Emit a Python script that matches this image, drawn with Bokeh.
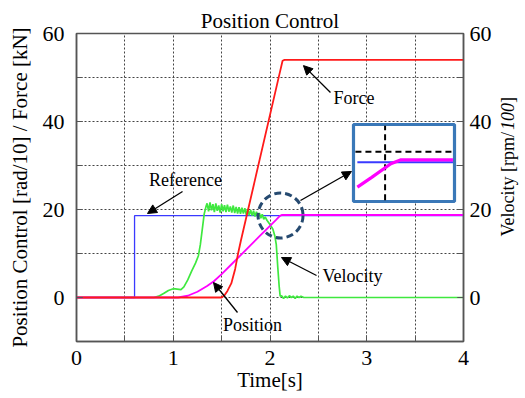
import math
import numpy as np
from bokeh.plotting import figure
from bokeh.layouts import row
from bokeh.models import LinearAxis, Range1d, FixedTicker, Arrow, NormalHead, Label
from bokeh.embed import file_html
from bokeh.resources import INLINE

FONT = "Liberation Serif"

# ---------------- data ----------------
ref_t = [0.0, 0.6, 0.6, 4.0]
ref_v = [0.0, 0.0, 18.6, 18.6]

pos_t = [0.0, 1.05, 1.15, 1.25, 1.35, 1.42, 1.5, 1.6, 1.7, 1.8, 1.9, 2.0, 2.06, 2.1, 2.12, 4.0]
pos_v = [0.0, 0.0, 0.4, 1.3, 2.6, 3.7, 5.3, 7.5, 9.7, 11.9, 14.1, 16.3, 17.6, 18.5, 18.75, 18.75]

force_t = [0.0, 1.5, 1.53, 1.56, 1.6, 1.64, 1.67, 1.7, 2.10, 2.13, 2.15, 4.0]
force_v = [0.0, 0.0, 0.5, 1.5, 3.2, 6.5, 10.0, 13.0, 51.0, 53.8, 54.0, 54.0]

vel_t = [0.0, 0.8, 0.85, 0.9, 0.95, 1.0, 1.04, 1.08, 1.11, 1.15, 1.19, 1.23, 1.26, 1.28, 1.30, 1.32, 1.34,
         1.35, 1.365, 1.38, 1.395, 1.41, 1.425, 1.44, 1.455, 1.47, 1.485, 1.50, 1.515, 1.53, 1.545,
         1.56, 1.575, 1.59, 1.605, 1.62, 1.635, 1.65, 1.665, 1.68, 1.695, 1.71, 1.725, 1.74, 1.755,
         1.77, 1.785, 1.80, 1.815, 1.83, 1.845, 1.86, 1.875, 1.89, 1.905, 1.92, 1.935, 1.95,
         1.97, 2.0, 2.03, 2.05, 2.065, 2.08, 2.095, 2.105, 2.12, 2.14, 2.16, 2.18, 2.2, 2.22,
         2.24, 2.26, 2.28, 2.3, 2.32, 2.35, 4.0]
vel_v = [0.0, 0.0, 0.3, 0.9, 1.6, 2.0, 1.9, 1.8, 2.4, 4.0, 6.0, 7.8, 9.5, 12.0, 15.5, 19.0, 20.8,
         21.4, 19.6, 21.6, 19.8, 21.2, 19.4, 21.4, 19.7, 20.9, 19.3, 21.2, 19.6, 21.0, 19.4,
         21.1, 19.5, 20.7, 19.3, 20.9, 19.2, 20.6, 19.1, 20.5, 19.0, 20.4, 19.1, 20.3, 18.8,
         20.1, 18.7, 19.9, 18.6, 19.7, 18.4, 19.5, 18.3, 19.2, 18.0, 18.9, 17.8, 18.3,
         17.5, 16.6, 15.5, 14.0, 12.0, 7.0, 2.5, 0.3, 0.4, -0.2, 0.3, -0.1, 0.4, 0.0,
         0.3, -0.2, 0.3, 0.0, 0.3, 0.0, 0.0]

x_major = [0, 1, 2, 3, 4]
x_grid = [0.5, 1.0, 1.5, 2.0, 2.5, 3.0, 3.5]
y_major = [0, 20, 40, 60]
y_grid = [0, 10, 20, 30, 40, 50]

# right axis title: (text, italic?) pieces
right_title = [("Velocity [rpm/", False), ("100", True), ("]", False)]

# zoom window shown in the inset, and the inset's guide lines
zoom_t = (2.03, 2.23)
zoom_v = (16.15, 20.95)
zoom_hline = 19.3
zoom_vline = 2.088

H = 398
RIGHT_W = 30
MAIN_W = 525 - RIGHT_W
TOP, BOTTOM = 33, 57

# ---------------- main figure ----------------
p = figure(width=MAIN_W, height=H, x_range=Range1d(0, 4), y_range=Range1d(-10, 60),
           output_backend="svg", toolbar_location=None,
           min_border_left=76, min_border_right=MAIN_W - 463,
           min_border_top=TOP, min_border_bottom=BOTTOM,
           title="Position Control")
p.title.text_font = FONT
p.title.text_font_size = "21px"
p.title.text_font_style = "normal"
p.title.align = "center"
p.title.offset = -6
p.title.text_color = "black"
p.title.standoff = 2

p.extra_y_ranges = {"vel": Range1d(-10, 60)}
right_axis = LinearAxis(y_range_name="vel")
p.add_layout(right_axis, "right")

xax = p.xaxis[0]
lax = p.yaxis[0]
rax = right_axis

xax.ticker = FixedTicker(ticks=x_major, minor_ticks=x_grid)
lax.ticker = FixedTicker(ticks=y_major, minor_ticks=y_grid)
rax.ticker = FixedTicker(ticks=y_major, minor_ticks=y_grid)
xax.axis_label = "Time[s]"
lax.axis_label = "Position Control [rad/10] / Force [kN]"

for ax in (xax, lax, rax):
    ax.major_label_text_font = FONT
    ax.major_label_text_font_size = "22px"
    ax.major_label_text_font_style = "normal"
    ax.major_label_text_color = "black"
    ax.axis_label_text_font = FONT
    ax.axis_label_text_font_style = "normal"
    ax.axis_label_text_font_size = "21px"
    ax.axis_label_text_color = "black"
    ax.axis_line_color = "#555555"
    ax.axis_line_width = 1.5
    ax.major_tick_in = 6
    ax.major_tick_out = 0
    ax.minor_tick_in = 6
    ax.minor_tick_out = 0
    ax.major_tick_line_color = "#555555"
    ax.minor_tick_line_color = "#555555"

xax.major_label_standoff = 9
xax.axis_label_standoff = 0
lax.major_label_standoff = 12
lax.axis_label_standoff = 8
rax.major_label_standoff = 6

p.outline_line_color = "#555555"
p.outline_line_width = 1.5

p.xgrid.ticker = FixedTicker(ticks=x_grid)
p.ygrid.ticker = FixedTicker(ticks=y_grid)
for g in (p.xgrid[0], p.ygrid[0]):
    g.grid_line_color = "#444444"
    g.grid_line_dash = "2 2"
    g.grid_line_width = 1

# ---------------- curves ----------------
p.line(ref_t, ref_v, line_color="#3a3aff", line_width=1.3)
p.line(vel_t, vel_v, line_color="#3fe83f", line_width=1.7)
p.line(pos_t, pos_v, line_color="#ff00ff", line_width=1.8)
p.line(force_t, force_v, line_color="#ff1a1a", line_width=1.8)

# ---------------- annotations ----------------
def arrow(x0, y0, x1, y1):
    p.add_layout(Arrow(end=NormalHead(size=9, fill_color="black", line_color="black"),
                       x_start=x0, y_start=y0, x_end=x1, y_end=y1,
                       line_color="black", line_width=1.3))

def label(x, y, txt, align="left"):
    p.add_layout(Label(x=x, y=y, text=txt, text_font=FONT, text_font_size="18px",
                       text_color="black", text_align=align, text_baseline="middle"))

arrow(1.096, 24.09, 0.734, 19.09)
label(1.127, 26.6, "Reference", "center")
arrow(2.625, 46.6, 2.346, 52.7)
label(2.656, 45.45, "Force")
arrow(2.481, 5.0, 2.119, 9.09)
label(2.543, 5.0, "Velocity")
arrow(1.664, -3.41, 1.416, 3.41)
label(1.819, -6.36, "Position", "center")

# dashed circle marking the zoomed region
p.scatter([2.109], [18.64], marker="circle", size=45, fill_color=None,
          line_color="#264a70", line_width=3, line_dash="7 4")
arrow(2.315, 22.05, 2.842, 28.64)

# ---------------- inset ----------------
box_l, box_r, box_b, box_t = 2.863, 3.907, 21.82, 39.32
p.quad(left=[box_l], right=[box_r], bottom=[box_b], top=[box_t],
       fill_color="white", line_color="#3a78b8", line_width=3.2)

pad_x, pad_y = 0.04, 0.5
ix0, ix1 = box_l + pad_x, box_r - pad_x * 0.4
iy0, iy1 = box_b + pad_y, box_t - pad_y

def to_inset(t, v):
    t = np.asarray(t, float)
    v = np.asarray(v, float)
    inner = (t > zoom_t[0]) & (t < zoom_t[1])
    tt = np.concatenate([[zoom_t[0]], t[inner], [zoom_t[1]]])
    vv = np.interp(tt, t, v)
    X = ix0 + (tt - zoom_t[0]) / (zoom_t[1] - zoom_t[0]) * (ix1 - ix0)
    Y = iy0 + (vv - zoom_v[0]) / (zoom_v[1] - zoom_v[0]) * (iy1 - iy0)
    return X, Y

hy = iy0 + (zoom_hline - zoom_v[0]) / (zoom_v[1] - zoom_v[0]) * (iy1 - iy0)
vx = ix0 + (zoom_vline - zoom_t[0]) / (zoom_t[1] - zoom_t[0]) * (ix1 - ix0)
p.line([box_l + 0.02, box_r - 0.02], [hy, hy], line_color="black", line_width=2, line_dash="6 4")
p.line([vx, vx], [box_b + 0.3, box_t - 0.3], line_color="black", line_width=2, line_dash="6 4")

rx, ry = to_inset(ref_t, ref_v)
p.line(rx, ry, line_color="#3a3aff", line_width=2)
mx, my = to_inset(pos_t, pos_v)
p.line(mx, my, line_color="#ff00ff", line_width=3.2)

# ---------------- right strip holding the velocity axis title ----------------
# frame of the strip matches the main frame (same top/bottom borders and y range)
px_per_unit = (H - TOP - BOTTOM) / 70.0
ADV = {c: 0.5 for c in "0123456789"}
ADV.update({" ": 0.25, "[": 0.333, "]": 0.333, "/": 0.278, "V": 0.722, "e": 0.444,
            "l": 0.278, "o": 0.5, "c": 0.444, "i": 0.278, "t": 0.278, "y": 0.5,
            "r": 0.333, "p": 0.5, "m": 0.778})

s = figure(width=RIGHT_W, height=H, x_range=Range1d(0, RIGHT_W), y_range=Range1d(-10, 60),
           x_axis_type=None, y_axis_type=None, output_backend="svg", toolbar_location=None,
           min_border_left=0, min_border_right=0, min_border_top=TOP, min_border_bottom=BOTTOM)
s.grid.visible = False
s.outline_line_color = None

size = 18
y = 60 - (236 - TOP) / px_per_unit
for txt, ital in right_title:
    s.add_layout(Label(x=12, y=y, text=txt, angle=math.pi / 2,
                       text_font=FONT, text_font_size=f"{size}px",
                       text_font_style="italic" if ital else "normal",
                       text_color="black", text_align="left", text_baseline="middle"))
    y += sum(ADV.get(c, 0.5) for c in txt) * size / px_per_unit

layout = row(p, s, spacing=0)
open("out.html", "w").write(file_html(layout, INLINE))
